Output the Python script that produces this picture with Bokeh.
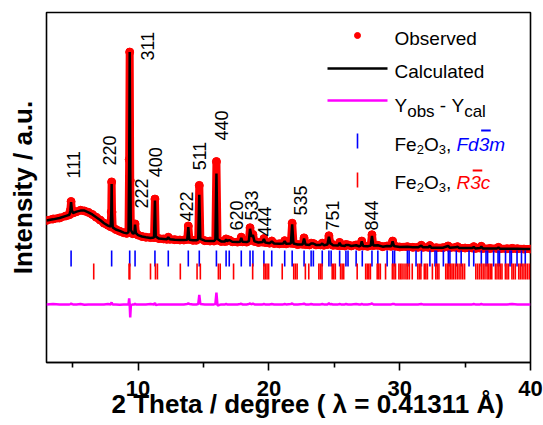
import math
from bokeh.plotting import figure
from bokeh.models import Range1d, FixedTicker, Title
from bokeh.core.properties import value
from bokeh.embed import file_html
from bokeh.resources import INLINE

# ---------------- data ----------------
two_theta = [
    3.00, 3.50, 4.00, 4.50, 4.75, 4.82, 4.88, 4.94, 5.02, 5.30,
    5.60, 5.90, 6.20, 6.50, 6.80, 7.10, 7.40, 7.70, 7.90, 7.95,
    7.98, 8.01, 8.06, 8.30, 8.60, 8.90, 9.15, 9.27, 9.32, 9.36,
    9.40, 9.45, 9.60, 9.72, 9.77, 9.83, 10.00, 10.30, 10.60, 10.95,
    11.22, 11.29, 11.35, 11.60, 11.95, 12.20, 12.31, 12.42, 12.80, 13.20,
    13.50, 13.76, 13.84, 13.92, 14.20, 14.45, 14.60, 14.68, 14.76, 15.10,
    15.50, 15.80, 15.91, 15.99, 16.07, 16.35, 16.65, 16.73, 16.81, 16.97,
    17.20, 17.60, 17.80, 17.89, 17.98, 18.30, 18.47, 18.56, 18.66, 18.78,
    18.90, 19.20, 19.52, 19.62, 19.72, 20.05, 20.22, 20.40, 20.80, 21.10,
    21.21, 21.32, 21.68, 21.78, 21.88, 22.20, 22.58, 22.69, 22.80, 23.10,
    23.23, 23.40, 23.60, 23.95, 24.08, 24.20, 24.48, 24.59, 24.70, 24.76,
    24.90, 25.30, 25.41, 25.52, 25.80, 25.89, 26.05, 26.30, 26.67, 26.90,
    27.02, 27.10, 27.20, 27.55, 27.79, 27.88, 27.98, 28.33, 28.70, 29.04,
    29.35, 29.46, 29.56, 29.65, 30.00, 30.59, 31.00, 31.40, 31.65, 31.78,
    32.20, 32.31, 32.42, 32.80, 33.30, 33.70, 33.82, 34.30, 34.42, 34.55,
    35.00, 35.55, 35.66, 35.78, 36.15, 36.24, 36.35, 36.90, 37.45, 37.55,
    37.66, 38.20, 38.60, 39.00, 39.50, 40.00,
]
y_obs = [
    40.6, 41.0, 41.3, 41.9, 42.2, 43.4, 46.0, 43.6, 42.7, 43.1,
    43.5, 43.3, 42.9, 42.3, 41.5, 40.7, 39.8, 39.2, 38.8, 43.0,
    51.6, 43.0, 38.6, 38.0, 37.5, 37.1, 36.9, 37.3, 58.0, 88.7,
    52.0, 37.6, 36.8, 37.0, 39.6, 37.0, 36.4, 36.0, 35.8, 35.7,
    35.7, 46.7, 35.8, 35.4, 35.3, 35.2, 35.8, 35.2, 35.1, 35.0,
    35.0, 35.2, 39.0, 35.2, 34.9, 34.9, 35.3, 50.6, 35.4, 34.8,
    34.7, 34.7, 35.2, 57.4, 35.0, 34.6, 34.6, 35.3, 34.7, 35.0,
    34.5, 34.4, 34.6, 35.8, 34.5, 34.4, 34.8, 38.5, 36.0, 36.6,
    34.6, 34.3, 34.4, 35.4, 34.3, 34.1, 34.7, 34.0, 33.9, 34.0,
    34.8, 33.9, 34.1, 39.8, 34.0, 33.7, 33.8, 35.6, 33.7, 33.6,
    34.1, 34.0, 33.6, 33.6, 34.1, 33.5, 33.7, 36.2, 34.0, 34.0,
    33.5, 33.4, 34.3, 33.4, 33.3, 33.7, 33.6, 33.3, 33.6, 33.2,
    33.4, 34.7, 33.3, 33.2, 33.5, 36.5, 33.4, 33.5, 33.1, 33.3,
    33.2, 34.7, 33.4, 33.2, 33.0, 33.1, 32.9, 32.9, 33.5, 32.9,
    32.9, 33.4, 32.8, 32.8, 32.8, 33.3, 32.8, 32.9, 33.1, 32.7,
    32.7, 32.7, 33.1, 32.6, 32.7, 33.2, 32.6, 32.6, 32.6, 32.9,
    32.5, 32.5, 32.6, 32.5, 32.4, 32.4,
]
y_calc = [
    40.6, 40.9, 41.3, 41.9, 42.2, 43.3, 45.8, 43.5, 42.7, 43.1,
    43.4, 43.4, 42.9, 42.3, 41.5, 40.7, 39.8, 39.1, 38.8, 42.6,
    51.0, 42.8, 38.6, 38.0, 37.6, 37.1, 36.9, 37.3, 56.3, 88.7,
    55.7, 37.8, 36.8, 37.0, 39.4, 37.0, 36.4, 36.0, 35.8, 35.6,
    35.7, 46.3, 36.0, 35.4, 35.3, 35.2, 35.8, 35.2, 35.1, 35.0,
    35.0, 35.1, 38.7, 35.1, 34.9, 34.9, 35.2, 47.9, 35.3, 34.8,
    34.7, 34.7, 35.1, 54.0, 35.3, 34.6, 34.6, 35.2, 34.7, 35.0,
    34.5, 34.4, 34.5, 35.6, 34.5, 34.4, 34.7, 38.2, 36.0, 36.4,
    34.6, 34.3, 34.4, 35.3, 34.3, 34.1, 34.6, 34.0, 33.9, 34.0,
    34.7, 33.9, 34.0, 39.5, 34.0, 33.7, 33.7, 35.4, 33.7, 33.6,
    34.0, 34.0, 33.6, 33.6, 34.0, 33.5, 33.7, 35.9, 34.0, 33.9,
    33.5, 33.4, 34.2, 33.4, 33.3, 33.6, 33.6, 33.3, 33.5, 33.2,
    33.4, 34.6, 33.3, 33.2, 33.4, 36.2, 33.4, 33.5, 33.1, 33.3,
    33.2, 34.6, 33.3, 33.2, 33.0, 33.1, 32.9, 32.9, 33.4, 32.9,
    32.9, 33.4, 32.8, 32.8, 32.8, 33.3, 32.8, 32.9, 33.1, 32.7,
    32.7, 32.7, 33.0, 32.6, 32.7, 33.1, 32.6, 32.6, 32.6, 32.9,
    32.5, 32.5, 32.5, 32.5, 32.4, 32.4,
]
assert len(two_theta) == len(y_obs) == len(y_calc)

# Bragg positions, Fe2O3 Fd-3m (blue) and Fe2O3 R-3c (red)
ticks_fd3m = [
    4.88, 7.98, 9.36, 9.77, 11.29, 12.31, 13.84, 14.68, 15.99, 16.73,
    16.97, 17.89, 18.56, 18.78, 19.62, 20.22, 21.21, 21.78, 22.69, 23.23,
    23.40, 24.08, 24.59, 24.76, 25.41, 25.89, 26.05, 26.67, 27.14, 27.88,
    28.33, 29.04, 29.47, 29.61, 30.59, 30.72, 31.25, 31.66, 32.31, 32.70,
    32.82, 33.34, 33.72, 33.84, 34.33, 34.70, 35.30, 35.66, 36.24, 36.60,
    36.72, 37.18, 37.52, 37.63, 38.09, 38.43, 38.54, 38.97, 39.31, 39.60,
]
ticks_r3c = [
    6.61, 9.31, 9.37, 10.95, 11.33, 11.48, 13.23, 14.51, 14.76, 16.14,
    16.28, 17.30, 18.76, 19.62, 19.74, 19.86, 19.98, 21.02, 21.90, 22.03,
    22.16, 22.79, 23.05, 23.82, 23.94, 24.06, 24.84, 24.96, 25.08, 25.48,
    25.60, 25.72, 26.75, 27.40, 27.52, 27.64, 27.76, 28.28, 28.40, 28.52,
    28.92, 29.44, 29.56, 29.68, 29.94, 30.06, 30.18, 30.33, 30.48, 30.60,
    30.74, 30.96, 31.38, 31.50, 31.62, 31.88, 32.00, 32.12, 32.50, 32.76,
    32.88, 33.00, 33.52, 33.64, 33.76, 33.88, 34.00, 34.12, 34.26, 34.40,
    34.54, 34.68, 34.82, 34.96, 35.82, 35.96, 36.10, 36.24, 36.38, 36.52,
    36.68, 36.80, 36.92, 37.04, 37.32, 37.44, 37.58, 37.70, 37.82, 38.08,
    38.20, 38.32, 38.58, 38.70, 38.84, 39.10, 39.22, 39.36, 39.50, 39.64,
    39.78, 39.92,
]

# Miller-index annotations (text, 2theta, intensity at which label starts)
hkl_labels = ["111", "220", "311", "222", "400", "422", "511", "440",
              "620", "533", "444", "535", "751", "844"]
hkl_label_x = [5.10, 7.82, 10.72, 10.26, 11.33, 13.70, 14.70, 16.38,
               17.53, 18.67, 19.66, 22.42, 24.86, 27.85]
hkl_label_y = [52.6, 56.3, 86.3, 44.0, 52.9, 40.3, 54.9, 63.4,
               37.7, 40.6, 36.0, 42.0, 37.7, 37.7]

x_ticks = [10, 20, 30, 40]
x_minor_ticks = [5, 15, 25, 35]

# ---------------- layout ----------------
W, H = 543, 425
FL, FR, FT, FB = 46, 530, 12, 362          # frame edges in canvas px
X_START, X_END = 3, 40
Y_START, Y_END = 0, 100

DIFF_OFFSET = 16.6
FD_TICK = (27.4, 32.0)
R_TICK = (23.7, 28.3)

SANS = "Liberation Sans"


def dx(px):
    return X_START + (px - FL) * (X_END - X_START) / (FR - FL)


def dy(py):
    return Y_START + (FB - py) * (Y_END - Y_START) / (FB - FT)


AR = {' ': 278, ',': 278, '-': 333, '.': 278, 'F': 611, 'O': 778, 'Y': 667,
      'R': 722, 'C': 722, 'a': 556, 'b': 556, 'c': 500, 'd': 556, 'e': 556,
      'l': 222, 'm': 833, 'o': 556, 'r': 333, 's': 500, 't': 278, 'u': 556,
      'v': 500}


def tw(s, size, table=AR, default=556):
    return sum(table.get(c, default) for c in s) * size / 1000.0


p = figure(width=W, height=H,
           x_range=Range1d(X_START, X_END), y_range=Range1d(Y_START, Y_END),
           output_backend="svg", toolbar_location=None,
           min_border_left=FL, min_border_right=W - FR,
           min_border_top=FT, min_border_bottom=H - FB,
           background_fill_color="white", border_fill_color="white")
p.grid.visible = False
p.outline_line_color = "black"
p.outline_line_width = 1.6
p.outline_line_alpha = 1.0

ax = p.xaxis[0]
ax.ticker = FixedTicker(ticks=x_ticks, minor_ticks=x_minor_ticks)
ax.axis_line_color = "black"
ax.axis_line_width = 1.6
ax.major_tick_line_color = "black"
ax.major_tick_line_width = 1.6
ax.major_tick_out = 8
ax.major_tick_in = 0
ax.minor_tick_line_color = "black"
ax.minor_tick_line_width = 1.6
ax.minor_tick_out = 5
ax.minor_tick_in = 0
ax.major_label_text_font = SANS
ax.major_label_text_font_style = "bold"
ax.major_label_text_font_size = "22px"
ax.major_label_text_color = "black"
ax.major_label_standoff = 10

yax = p.yaxis[0]
yax.ticker = FixedTicker(ticks=[])
yax.axis_line_color = None
yax.major_tick_out = 0
yax.major_tick_in = 0
yax.minor_tick_out = 0
yax.minor_tick_in = 0
yax.major_label_standoff = 0
yax.axis_label = "Intensity / a.u."
yax.axis_label_standoff = 9
yax.axis_label_text_font = SANS
yax.axis_label_text_font_style = "bold"
yax.axis_label_text_font_size = "26px"
yax.axis_label_text_color = "black"

# x-axis title (single row, left-aligned where the reference starts it)
TS = 26
T_START = 111
p.add_layout(Title(text="2 Theta / degree ( λ = 0.41311 Å)", align="left",
                   offset=round(T_START - FL), vertical_align="bottom",
                   standoff=-24, text_font=SANS, text_font_style="bold",
                   text_font_size=f"{TS}px", text_color="black"), "below")

# observed (thick red dotted band), calculated, difference
p.line(two_theta, y_obs, color="#ff0000", line_width=8, line_join="round", line_cap="round")
p.scatter(two_theta, y_obs, size=8, color="#ff0000")
p.line(two_theta, y_calc, color="black", line_width=2.5)
y_diff = [o - c + DIFF_OFFSET for o, c in zip(y_obs, y_calc)]
p.line(two_theta, y_diff, color="#ff00ff", line_width=2.5)

# Bragg ticks
p.segment(x0=ticks_fd3m, y0=[FD_TICK[0]] * len(ticks_fd3m),
          x1=ticks_fd3m, y1=[FD_TICK[1]] * len(ticks_fd3m),
          color="#0000ff", line_width=1.6)
p.segment(x0=ticks_r3c, y0=[R_TICK[0]] * len(ticks_r3c),
          x1=ticks_r3c, y1=[R_TICK[1]] * len(ticks_r3c),
          color="#ff0000", line_width=1.6)

# hkl labels
p.text(x=hkl_label_x, y=hkl_label_y, text=hkl_labels, angle=math.pi / 2,
       text_align="left", text_baseline="middle",
       text_font=value(SANS), text_font_size="18px", text_color="black")

# ---------------- legend (drawn by hand) ----------------
LX = 394
p.scatter([dx(357)], [dy(35)], size=6, color="#ff0000")
p.line([dx(327), dx(387)], [dy(68), dy(68)], color="black", line_width=2.5)
p.line([dx(327), dx(387)], [dy(100), dy(100)], color="#ff00ff", line_width=2.5)
p.segment(x0=[dx(357)], y0=[dy(148)], x1=[dx(357)], y1=[dy(133)], color="#0000ff", line_width=1.6)
p.segment(x0=[dx(357)], y0=[dy(187)], x1=[dx(357)], y1=[dy(172)], color="#ff0000", line_width=1.6)


def row(pieces, x, yc):
    pos = []
    for s, size, style, color, drop in pieces:
        if s.strip():
            p.text(x=[dx(x)], y=[dy(yc + drop)], text=[s],
                   text_font=value(SANS), text_font_size=f"{size}px",
                   text_font_style=style, text_color=color,
                   text_align="left", text_baseline="middle")
        w = tw(s, size)
        pos.append((x, w))
        x += w
    return pos


LS = 19
row([("Observed", LS, "normal", "black", 0)], LX, 37.5)
row([("Calculated", LS, "normal", "black", 0)], LX, 70.5)
row([("Y", LS, "normal", "black", 0), ("obs", 17, "normal", "black", 6),
     (" ", LS, "normal", "black", 0), ("-", LS, "normal", "black", 0),
     (" ", LS, "normal", "black", 0), ("Y", LS, "normal", "black", 0),
     ("cal", 17, "normal", "black", 6)], LX, 105)
pos = row([("Fe", LS, "normal", "black", 0), ("2", 13, "normal", "black", 5.5),
           ("O", LS, "normal", "black", 0), ("3", 13, "normal", "black", 5.5),
           (",", LS, "normal", "black", 0), (" ", LS, "normal", "black", 0),
           ("Fd", LS, "italic", "#0000ff", 0), ("3", LS, "italic", "#0000ff", 0),
           ("m", LS, "italic", "#0000ff", 0)], LX, 143.5)
xo, wo = pos[7]
p.segment(x0=[dx(xo + 2.5)], y0=[dy(130)], x1=[dx(xo + wo + 1.5)], y1=[dy(130)],
          color="#0000ff", line_width=1.8)
pos = row([("Fe", LS, "normal", "black", 0), ("2", 13, "normal", "black", 5.5),
           ("O", LS, "normal", "black", 0), ("3", 13, "normal", "black", 5.5),
           (",", LS, "normal", "black", 0), (" ", LS, "normal", "black", 0),
           ("R", LS, "italic", "#ff0000", 0), ("3", LS, "italic", "#ff0000", 0),
           ("c", LS, "italic", "#ff0000", 0)], LX, 181.5)
xo, wo = pos[7]
p.segment(x0=[dx(xo + 2.5)], y0=[dy(170)], x1=[dx(xo + wo + 1.5)], y1=[dy(170)],
          color="#ff0000", line_width=1.8)

open("out.html", "w").write(file_html(p, INLINE))
